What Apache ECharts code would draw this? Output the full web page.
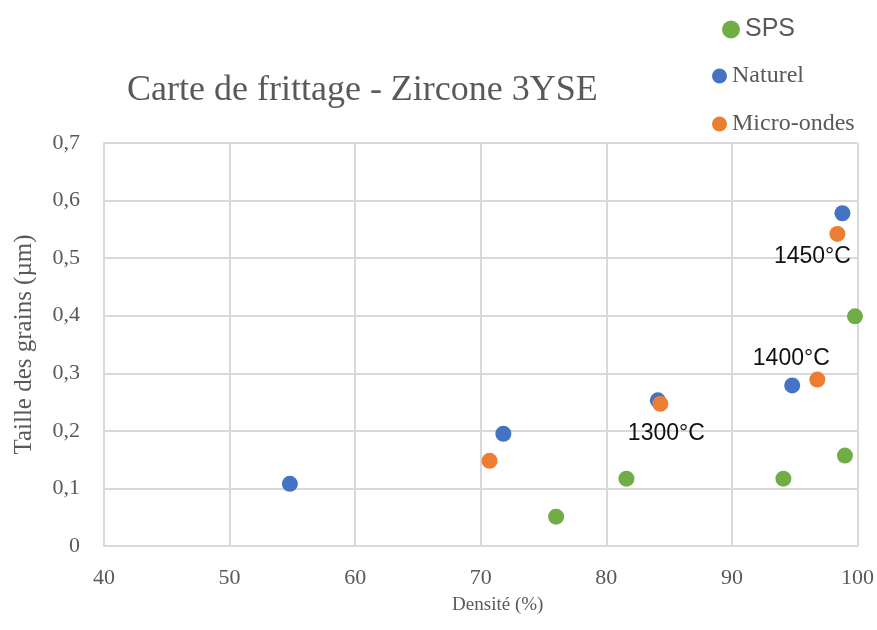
<!DOCTYPE html>
<html>
<head>
    <meta charset="utf-8">
    <title>Carte de frittage</title>
    <script src="https://cdn.jsdelivr.net/npm/echarts@6/dist/echarts.min.js"></script>
</head>
<body style="margin:0;background:#fff;">
<div id="main" style="width: 877px;height:630px;"></div>
<script type="text/javascript">
    // données (densité %, taille µm)
    var spsDensite = [76.0, 81.6, 94.1, 99.0, 99.8];
    var spsTaille = [0.051, 0.117, 0.117, 0.157, 0.399];
    var naturelDensite = [54.8, 71.8, 84.1, 94.8, 98.8];
    var naturelTaille = [0.108, 0.195, 0.253, 0.279, 0.578];
    var microDensite = [70.7, 84.3, 96.8, 98.4];
    var microTaille = [0.148, 0.247, 0.289, 0.542];
    var tempLabels = ['', '1300°C', '1400°C', '1450°C'];
    var yTicks = ['0', '0,1', '0,2', '0,3', '0,4', '0,5', '0,6', '0,7'];

    var serif = 'Liberation Serif';
    var gris = '#595959';

    function pairs(xs, ys) {
        var out = [];
        for (var i = 0; i < xs.length; i++) out.push([xs[i], ys[i]]);
        return out;
    }

    // décalage des étiquettes de température
    var labelPos = [null, [6, 30], [-26, -21], [-25, 23]];
    var microData = pairs(microDensite, microTaille).map(function (p, i) {
        if (!tempLabels[i]) return p;
        return {
            value: p,
            label: {
                show: true,
                formatter: tempLabels[i],
                position: 'inside',
                offset: labelPos[i],
                color: '#111',
                fontFamily: 'Liberation Sans',
                fontSize: 23
            }
        };
    });

    var myChart = echarts.init(document.getElementById('main'));
    var option = {
        animation: false,
        title: {
            text: 'Carte de frittage - Zircone 3YSE',
            left: 122,
            top: 68,
            textStyle: { fontFamily: serif, fontWeight: 'normal', fontSize: 36, color: gris }
        },
        legend: [
            {
                data: ['SPS'], left: 717, top: 12, icon: 'circle',
                itemWidth: 18, itemHeight: 18, itemGap: 6,
                textStyle: { fontFamily: 'Liberation Sans', fontSize: 25, color: gris }
            },
            {
                data: ['Naturel'], left: 707, top: 59, icon: 'circle',
                itemWidth: 15, itemHeight: 15, itemGap: 3,
                textStyle: { fontFamily: serif, fontSize: 24, color: gris }
            },
            {
                data: ['Micro-ondes'], left: 707, top: 107, icon: 'circle',
                itemWidth: 15, itemHeight: 15, itemGap: 3,
                textStyle: { fontFamily: serif, fontSize: 24, color: gris }
            }
        ],
        grid: { left: 104, right: 17, top: 143, bottom: 84 },
        xAxis: {
            type: 'value', min: 40, max: 100, interval: 10,
            name: 'Densité (%)', nameLocation: 'middle', nameGap: 50,
            nameTextStyle: { fontFamily: serif, fontSize: 19, color: gris, padding: [0, 0, 0, 34] },
            axisLine: { show: true, lineStyle: { color: '#d9d9d9', width: 2 } },
            axisTick: { show: false },
            axisLabel: { fontFamily: serif, fontSize: 22, color: gris, margin: 21 },
            splitLine: { show: true, lineStyle: { color: '#d9d9d9', width: 2 } }
        },
        yAxis: {
            type: 'value', min: 0, max: 0.7, interval: 0.1,
            name: 'Taille des grains (µm)', nameLocation: 'middle', nameGap: 67, nameRotate: 90,
            nameTextStyle: { fontFamily: serif, fontSize: 25, color: gris },
            axisLine: { show: true, lineStyle: { color: '#d9d9d9', width: 2 } },
            axisTick: { show: false },
            axisLabel: {
                fontFamily: serif, fontSize: 22, color: gris, margin: 24,
                formatter: function (v) { return yTicks[Math.round(v * 10)]; }
            },
            splitLine: { show: true, lineStyle: { color: '#d9d9d9', width: 2 } }
        },
        series: [
            {
                name: 'SPS', type: 'scatter', symbolSize: 16,
                itemStyle: { color: '#70AD47', opacity: 1 },
                data: pairs(spsDensite, spsTaille)
            },
            {
                name: 'Naturel', type: 'scatter', symbolSize: 16,
                itemStyle: { color: '#4472C4', opacity: 1 },
                data: pairs(naturelDensite, naturelTaille)
            },
            {
                name: 'Micro-ondes', type: 'scatter', symbolSize: 16,
                itemStyle: { color: '#ED7D31', opacity: 1 },
                data: microData
            }
        ]
    };
    myChart.setOption(option);
</script>
</body>
</html>
